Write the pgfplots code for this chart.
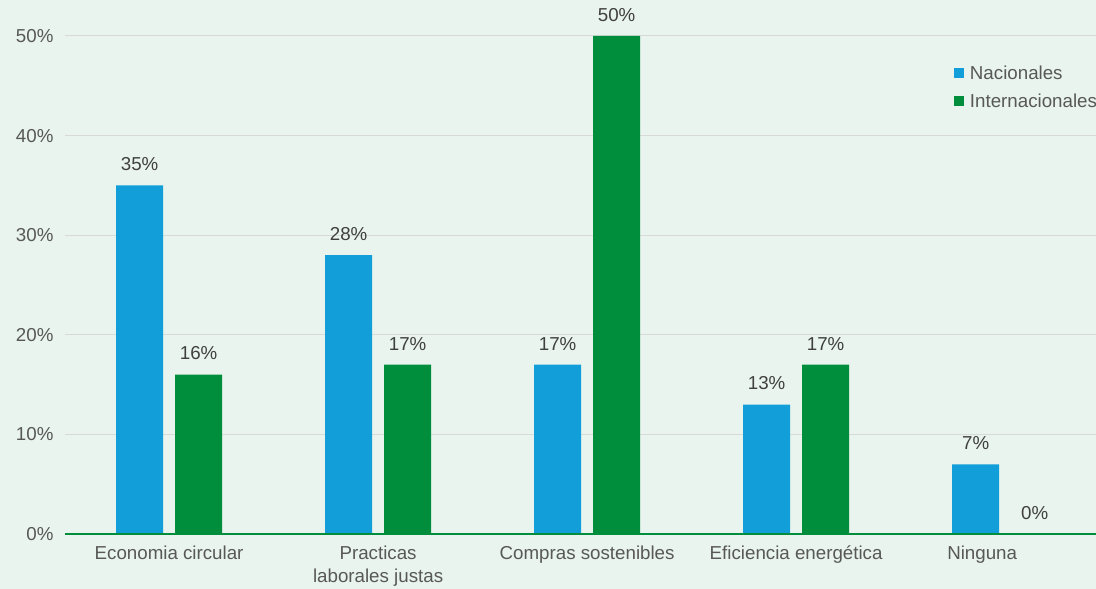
\documentclass[border=0pt]{standalone}
\usepackage{pgfplots}
\pgfplotsset{compat=1.18}
\usepackage{fontspec}
\setmainfont{Liberation Sans}
\definecolor{bg}{RGB}{232,244,237}
\definecolor{cblue}{RGB}{18,158,216}
\definecolor{cgreen}{RGB}{0,142,60}
\definecolor{gridc}{RGB}{216,218,216}
\definecolor{tickc}{RGB}{88,88,88}
\definecolor{valc}{RGB}{64,64,64}
\begin{document}
\begin{tikzpicture}[x=1bp,y=1bp]
\fill[bg] (0,0) rectangle (1096,589);
\useasboundingbox (0,0) rectangle (1096,589);
\begin{axis}[
  at={(65bp,55bp)}, anchor=south west,
  scale only axis, width=1031bp, height=498bp,
  ymin=0, ymax=50, xmin=-0.498, xmax=4.435,
  enlargelimits=false, clip=false,
  ybar, bar width=47bp,
  axis line style={draw=none},
  major tick length=0pt,
  ytick={0,10,20,30,40,50},
  yticklabel={\pgfmathprintnumber{\tick}\%},
  yticklabel style={xshift=-8bp},
  xtick={0,1,2,3},
  xticklabels={Economia circular,{Practicas\\laborales justas},Compras sostenibles,Eficiencia energética},
  xticklabel style={align=center, yshift=-8bp},
  extra x ticks={4},
  extra x tick labels={Ninguna},
  extra x tick style={xticklabel style={xshift=-23bp}},
  ymajorgrids, grid style={gridc, line width=1bp},
  tick label style={font=\fontsize{18.8}{23}\selectfont, text=tickc},
  /pgf/number format/assume math mode=true,
  nodes near coords={\pgfmathprintnumber{\pgfplotspointmeta}\%},
  every node near coord/.append style={font=\fontsize{18.8}{22}\selectfont, text=valc, anchor=south, yshift=11bp},
  legend style={at={(0.862,0.945)}, anchor=north west, draw=none, fill=none,
    font=\fontsize{18.8}{22}\selectfont, text=tickc, row sep=9bp, inner sep=0pt,
    /tikz/every even column/.style={column sep=2bp}},
  legend cell align=left,
]
\addplot[fill=cblue, draw=none, bar shift=-29.5bp,
  legend image code/.code={\fill[cblue] (0bp,-5bp) rectangle (10bp,5bp);}]
  coordinates {(0,35) (1,28) (2,17) (3,13) (4,7)};
\addlegendentry{\hspace{4bp}Nacionales}
\addplot[fill=cgreen, draw=none, bar shift=29.5bp,
  legend image code/.code={\fill[cgreen] (0bp,-5bp) rectangle (10bp,5bp);}]
  coordinates {(0,16) (1,17) (2,50) (3,17) (4,0)};
\addlegendentry{\hspace{4bp}Internacionales}
\draw[cgreen, line width=2.5bp] (rel axis cs:0,0) -- (rel axis cs:1,0);
\end{axis}
\end{tikzpicture}
\end{document}
